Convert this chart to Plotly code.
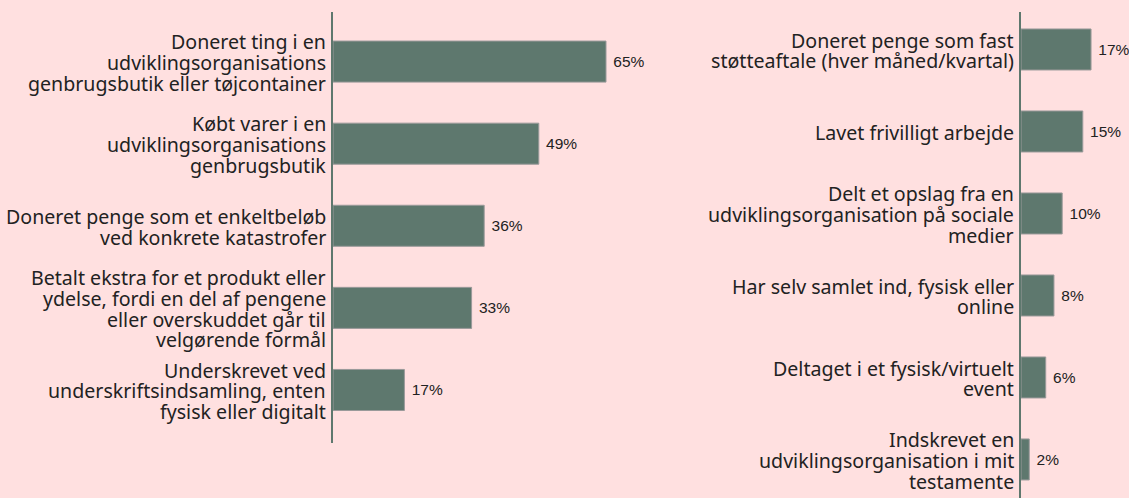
import plotly.graph_objects as go

left_labels = [
    "Doneret ting i en<br>udviklingsorganisations<br>genbrugsbutik eller tøjcontainer",
    "Købt varer i en<br>udviklingsorganisations<br>genbrugsbutik",
    "Doneret penge som et enkeltbeløb<br>ved konkrete katastrofer",
    "Betalt ekstra for et produkt eller<br>ydelse, fordi en del af pengene<br>eller overskuddet går til<br>velgørende formål",
    "Underskrevet ved<br>underskriftsindsamling, enten<br>fysisk eller digitalt",
]
left_values = [65, 49, 36, 33, 17]

right_labels = [
    "Doneret penge som fast<br>støtteaftale (hver måned/kvartal)",
    "Lavet frivilligt arbejde",
    "Delt et opslag fra en<br>udviklingsorganisation på sociale<br>medier",
    "Har selv samlet ind, fysisk eller<br>online",
    "Deltaget i et fysisk/virtuelt<br>event",
    "Indskrevet en<br>udviklingsorganisation i mit<br>testamente",
]
right_values = [17, 15, 10, 8, 6, 2]

W, H = 1129, 498
BG = "#FFE0E0"
BAR = "#5E786E"
TXT = "#222222"
LINE_H = 20.7

fig = go.Figure()


def add_bars(labels, values, xa, ya):
    fig.add_trace(go.Bar(
        y=list(range(len(labels))), x=values, orientation="h",
        xaxis=xa, yaxis=ya,
        marker=dict(color=BAR, line=dict(color="#9a9a9a", width=1)),
        width=0.5,
        text=[f" {v}%" for v in values], textposition="outside",
        textfont=dict(family="Liberation Sans, Arial", size=15.5, color=TXT),
        cliponaxis=False, hoverinfo="skip", showlegend=False,
    ))
    xref = xa + " domain"
    for i, lab in enumerate(labels):
        lines = lab.split("<br>")
        n = len(lines)
        for j, ln in enumerate(lines):
            fig.add_annotation(
                x=0, xref=xref, y=i, yref=ya,
                text=ln, showarrow=False, xanchor="right", yanchor="middle",
                xshift=-5, yshift=-(j - (n - 1) / 2) * LINE_H - 1,
                font=dict(family="Noto Sans", size=19.6, color=TXT),
            )


add_bars(left_labels, left_values, "x", "y")
add_bars(right_labels, right_values, "x2", "y2")

common_y = dict(tickmode="array", showticklabels=False, ticks="",
                showgrid=False, zeroline=False, showline=True,
                linecolor=BAR, linewidth=2, automargin=False, fixedrange=True)

fig.update_layout(
    width=W, height=H,
    margin=dict(l=0, r=0, t=0, b=0),
    paper_bgcolor=BG, plot_bgcolor=BG,
    xaxis=dict(domain=[333 / W, (333 + 4.2 * 80) / W], range=[0, 80],
               visible=False, fixedrange=True),
    yaxis=dict(domain=[1 - 443 / H, 1 - 12 / H], range=[4.646, -0.604],
               **common_y),
    xaxis2=dict(domain=[1021 / W, 1.0], range=[0, 108 / 4.12],
                visible=False, fixedrange=True),
    yaxis2=dict(domain=[0, 1 - 12 / H], range=[5.47, -0.457], anchor="x2",
                **common_y),
)

fig.write_html("out.html",
               config={"displayModeBar": False},
               post_script="document.body.style.margin='0';document.body.style.overflow='hidden';")
